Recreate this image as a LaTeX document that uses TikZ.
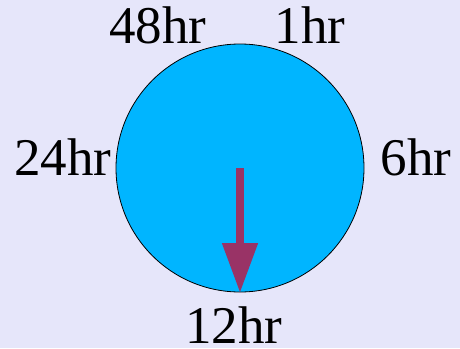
\documentclass[tikz,border=0pt]{standalone}
\usepackage{fontspec}
\setmainfont{Liberation Serif}
\usepackage{tikz}
\usetikzlibrary{arrows.meta}
\definecolor{Lavender}{HTML}{E6E6FA}
\definecolor{DialBlue}{HTML}{00B5FF}
\definecolor{HandPurple}{HTML}{993366}

\begin{document}
\begin{tikzpicture}[x=1pt, y=-1pt,
  lbl/.style={anchor=base, inner sep=0pt, font=\fontsize{53}{60}\selectfont},
  dial/.style={draw=black, line width=0.8pt, circle, fill=DialBlue, minimum size=248pt, inner sep=0pt},
  hand/.style={draw=HandPurple, line width=8pt, -{Triangle[length=50pt,width=34pt]}}]
\fill[Lavender] (0,0) rectangle (460,348);
\useasboundingbox (0,0) rectangle (460,348);
\node[dial] (c) at (240,168) {};
\coordinate (tip) at (240,293);
\node[lbl] (h48) at (158,43)  {48hr};
\node[lbl] (h1)  at (310,43)  {1hr};
\node[lbl] (h24) at (63,175)  {24hr};
\node[lbl] (h6)  at (416,175) {6hr};
\node[lbl] (h12) at (234,343) {12hr};
\draw[hand] (c.center) -- (tip);
\end{tikzpicture}
\end{document}
